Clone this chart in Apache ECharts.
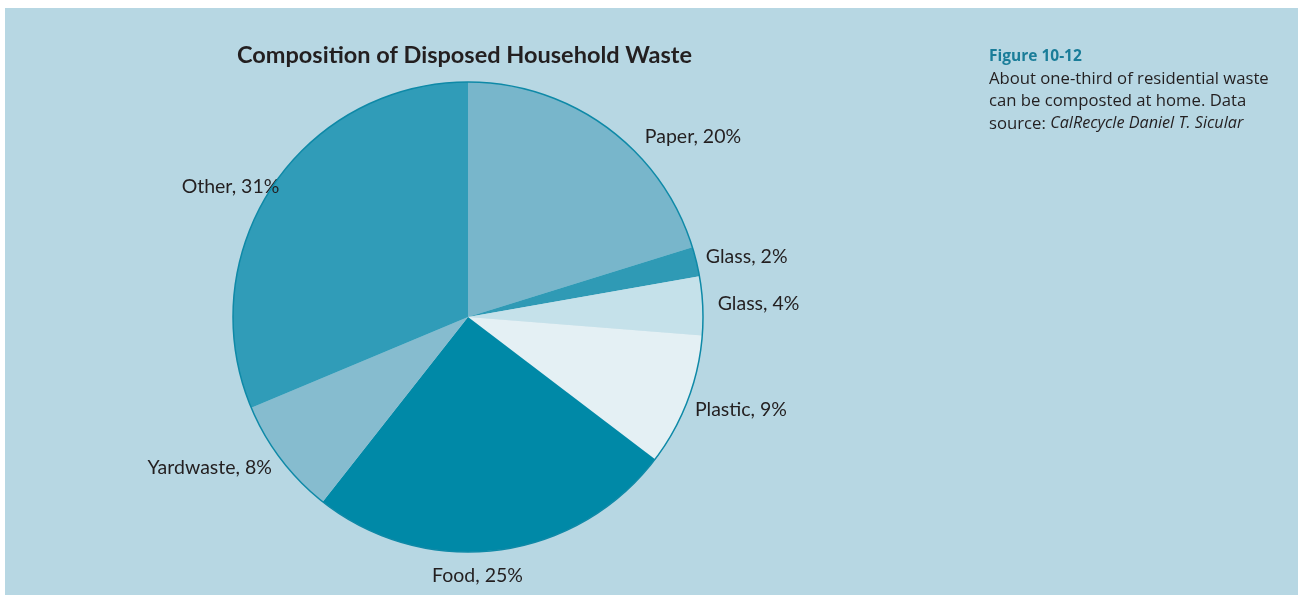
<!DOCTYPE html>
<html>
<head>
<meta charset="utf-8">
<script src="https://cdn.jsdelivr.net/npm/echarts@6/dist/echarts.min.js"></script>
<style>
html,body{margin:0;padding:0;background:#ffffff;}
#frame{position:absolute;left:5px;top:8px;width:1293px;height:587px;background:#b7d7e3;}
#chart{position:absolute;left:0;top:0;width:1298px;height:595px;}
</style>
</head>
<body>
<div id="frame"></div>
<div id="chart"></div>
<script>
const categories = ['Paper', 'Glass', 'Glass', 'Plastic', 'Food', 'Yardwaste', 'Other'];
const values = [20, 2, 4, 9, 25, 8, 31];
const colors = ['#78b6cb', '#2f9ab5', '#c5e1ea', '#e4f0f4', '#0089a7', '#86bccf', '#309cb8'];
// label placement tweaks (radial length, horizontal length)
const labelLen = [-11, 19, 38, 25, 26, 14, 0];
const labelLen2 = [39, -14, -28, -21, -74, -7, -12];

const title = 'Composition of Disposed Household Waste';
const figTitle = 'Figure 10-12';

const chart = echarts.init(document.getElementById('chart'), null, {renderer: 'canvas'});
const pieData = categories.map((c, i) => ({
  name: c,
  value: values[i],
  itemStyle: {color: colors[i]},
  labelLine: {show: false, length: labelLen[i], length2: labelLen2[i]}
}));

chart.setOption({
  backgroundColor: 'transparent',
  animation: false,
  title: [
    {
      text: title,
      left: 232, top: 38,
      textStyle: {fontFamily: 'Lato', fontWeight: 'bold', fontSize: 23.5, color: '#231f20'}
    },
    {
      text: '{h|' + figTitle + '}\n{t|About one-third of residential waste}\n{t|can be composted at home. Data}\n{t|source: }{i|CalRecycle Daniel T. Sicular}',
      left: 989, top: 45,
      padding: 0,
      textStyle: {
        fontWeight: 'normal',
        rich: {
          h: {fontFamily: 'Open Sans', fontWeight: 'bold', fontSize: 15.5, color: '#1a7d99', lineHeight: 22.5},
          t: {fontFamily: 'Open Sans', fontWeight: 'normal', fontSize: 16.7, color: '#231f20', lineHeight: 22.5},
          i: {fontFamily: 'Open Sans', fontWeight: 'normal', fontStyle: 'italic', fontSize: 16.2, color: '#231f20', lineHeight: 22.5}
        }
      }
    }
  ],
  series: [
    {
      type: 'pie',
      center: [468, 317],
      radius: 235,
      startAngle: 90,
      clockwise: true,
      avoidLabelOverlap: false,
      silent: true,
      itemStyle: {borderWidth: 0},
      label: {
        show: true,
        position: 'outside',
        formatter: '{b}, {c}%',
        fontFamily: 'Lato',
        fontSize: 19.5,
        color: '#231f20',
        distanceToLabelLine: 5
      },
      labelLine: {show: false},
      data: pieData
    },
    {
      type: 'pie',
      center: [468, 317],
      radius: 235,
      silent: true,
      label: {show: false},
      labelLine: {show: false},
      itemStyle: {color: 'transparent', borderColor: '#0e89a7', borderWidth: 1.5},
      data: [{name: 'outline', value: 1}],
      z: 3
    }
  ]
});
</script>
</body>
</html>
